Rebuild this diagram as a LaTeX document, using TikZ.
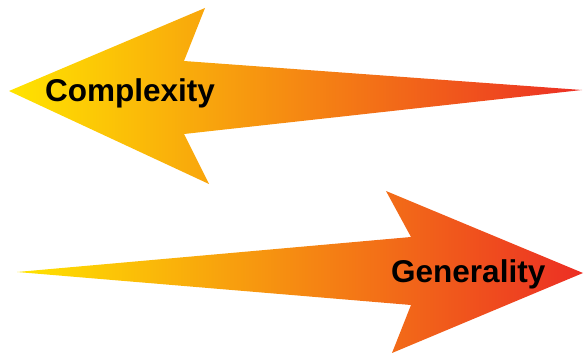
\documentclass[tikz,border=0pt]{standalone}
\usepackage{fontspec}
\setmainfont{Liberation Sans}
\definecolor{ayellow}{RGB}{255,228,0}
\definecolor{aorange}{RGB}{247,148,30}
\definecolor{ared}{RGB}{236,46,36}
\begin{document}
\begin{tikzpicture}[x=1pt,y=-1pt,
  arrowshape/.style={left color=ayellow,middle color=aorange,right color=ared,draw=none},
  lab/.style={inner sep=0pt,anchor=base west,font=\fontsize{31.5}{31.5}\selectfont\bfseries,text=black}]
\useasboundingbox (0,0) rectangle (584,353);
% top arrow (pointing left)
\shade[arrowshape] (9,91) -- (205,8) -- (184,61) -- (582,90) -- (184,134) -- (209,184) -- cycle;
% bottom arrow (pointing right)
\shade[arrowshape] (17,272) -- (411,237) -- (386,191) -- (583,273) -- (392,353) -- (411,305) -- cycle;
\node[lab] (cx) at (45,102) {Complexity};
\node[lab] (gn) at (391,282) {Generality};
\end{tikzpicture}
\end{document}
